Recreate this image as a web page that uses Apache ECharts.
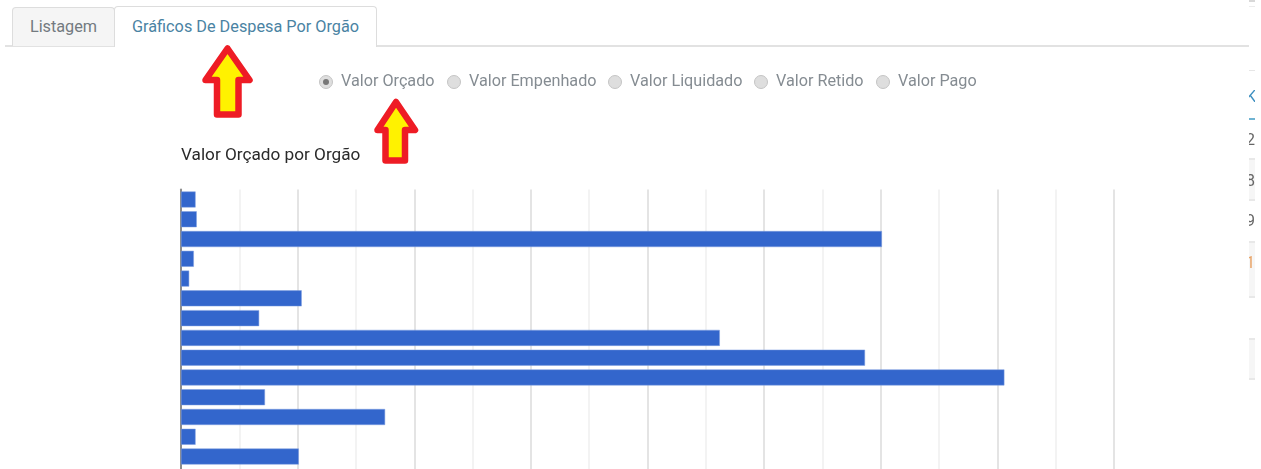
<!DOCTYPE html>
<html>
<head>
<meta charset="utf-8">
<title>Gráficos De Despesa Por Orgão</title>
<script src="https://cdn.jsdelivr.net/npm/echarts@6/dist/echarts.min.js"></script>
<style>
    html, body { margin: 0; padding: 0; background: #fff; overflow: hidden; }
    #page { position: relative; width: 1261px; height: 469px; overflow: hidden; font-family: Roboto, sans-serif; }
    #chart { position: absolute; left: 0; top: 0; width: 1261px; height: 469px; }
    .rule { position: absolute; left: 5px; top: 45px; width: 1244px; height: 2px; background: #e2e2e2; }
    .tab { position: absolute; box-sizing: border-box; font-size: 16.25px; text-align: center; border: 1px solid #ddd; border-bottom: 0; border-radius: 4px 4px 0 0; }
    .tab.off { left: 12px; top: 7px; width: 103px; height: 39px; line-height: 37px; background: #f5f5f5; color: #737a80; }
    .tab.on { left: 114px; top: 6px; width: 263px; height: 41px; line-height: 39px; background: #fff; color: #4a83a3; }
    .radio { position: absolute; top: 72px; font-size: 16.2px; line-height: 18px; color: #858c92; white-space: nowrap; }
    .radio i { position: absolute; left: -22px; top: 3px; box-sizing: border-box; width: 14px; height: 14px; border-radius: 50%; background: #dedede; border: 1px solid #c4c4c4; }
    .radio.sel i::after { content: ""; position: absolute; left: 3px; top: 3px; width: 6px; height: 6px; border-radius: 50%; background: #777; }
    #arrows { position: absolute; left: 0; top: 0; }
    .side { position: absolute; left: 1249px; width: 6px; box-sizing: border-box; }
    .box { background: #f6f6f6; border-top: 2px solid #e8e8e8; border-bottom: 2px solid #e8e8e8; }
    .frag { position: absolute; left: 1249px; width: 6px; height: 20px; overflow: hidden; font-size: 16px; line-height: 20px; }
    .frag span { position: absolute; left: -3px; top: 0; }
</style>
</head>
<body>
<div id="page">
    <div id="chart"></div>
    <div class="rule"></div>
    <div class="tab off">Listagem</div>
    <div class="tab on">Gráficos De Despesa Por Orgão</div>

    <div class="radio sel" style="left: 341px"><i></i>Valor Orçado</div>
    <div class="radio" style="left: 469px"><i></i>Valor Empenhado</div>
    <div class="radio" style="left: 630px"><i></i>Valor Liquidado</div>
    <div class="radio" style="left: 776px"><i></i>Valor Retido</div>
    <div class="radio" style="left: 898px"><i></i>Valor Pago</div>

    <svg id="arrows" width="1261" height="469">
        <polygon points="227.5,48.5 249.5,80 238.5,80 238.5,114.5 217,114.5 217,80 205.5,80" fill="#fff200" stroke="#ee1c25" stroke-width="6.5" stroke-linejoin="round"/>
        <polygon points="396,102 415,130 405,130 405,160.5 385.5,160.5 385.5,130 377.5,130" fill="#fff200" stroke="#ee1c25" stroke-width="6.5" stroke-linejoin="round"/>
    </svg>

    <div class="side" style="top: 0; height: 2px; background: #d8d8d8"></div>
    <div class="side" style="top: 6px; height: 1px; background: #ececec"></div>
    <div class="side" style="top: 70px; height: 1px; background: #e6e6e6"></div>
    <div class="side" style="top: 118px; height: 2px; background: #6fb3d2"></div>
    <div class="side box" style="top: 158px; height: 43px"></div>
    <div class="side box" style="top: 241px; height: 57px"></div>
    <div class="side box" style="top: 338px; height: 42px"></div>
    <div class="frag" style="top: 87px; color: #3d8fc0"><span>K</span></div>
    <div class="frag" style="top: 130px; color: #666"><span>2</span></div>
    <div class="frag" style="top: 171px; color: #666"><span>8</span></div>
    <div class="frag" style="top: 211px; color: #666"><span>9</span></div>
    <div class="frag" style="top: 253px; color: #e8a468"><span>1</span></div>
</div>
<script>
// Orgãos nao aparecem na imagem, eixo sem rotulo
const ORGAOS = ['1', '2', '3', '4', '5', '6', '7', '8', '9', '10', '11', '12', '13', '14'];
const VALOR_ORCADO = [2.5, 2.7, 120.2, 2.2, 1.4, 20.7, 13.4, 92.4, 117.3, 141.2, 14.4, 35, 2.5, 20.2];
const EIXO_MAX = 160;
const EIXO_PASSO = 10;

const chart = echarts.init(document.getElementById('chart'));
chart.setOption({
    animation: false,
    title: {
        text: 'Valor Orçado por Orgão',
        left: 181,
        top: 147,
        padding: 0,
        textStyle: { color: '#2a2a2a', fontSize: 17.2, fontWeight: 'normal', fontFamily: 'Roboto' }
    },
    // grafico cortado embaixo, grid passa do canvas
    grid: { left: 181, top: 189.6, width: 933, height: 296.6, outerBoundsMode: 'none' },
    xAxis: {
        type: 'value',
        min: 0,
        max: EIXO_MAX,
        interval: EIXO_PASSO,
        axisLine: { show: false },
        axisTick: { show: false },
        axisLabel: { show: false },
        splitLine: {
            show: true,
            // linhas alternadas, forte / fraca
            lineStyle: { width: 2, color: ['#e4e4e4', '#f3f3f3'] }
        }
    },
    yAxis: {
        type: 'category',
        inverse: true,
        data: ORGAOS,
        max: ORGAOS.length,
        axisLine: { show: true, onZero: false, lineStyle: { color: '#8c8c8c', width: 2 } },
        axisTick: { show: false },
        axisLabel: { show: false }
    },
    series: [{
        name: 'Valor Orçado',
        type: 'bar',
        data: VALOR_ORCADO,
        barWidth: 16,
        itemStyle: { color: '#3366cc', borderColor: '#7f9fe0', borderWidth: 0.5 }
    }]
});
</script>
</body>
</html>
